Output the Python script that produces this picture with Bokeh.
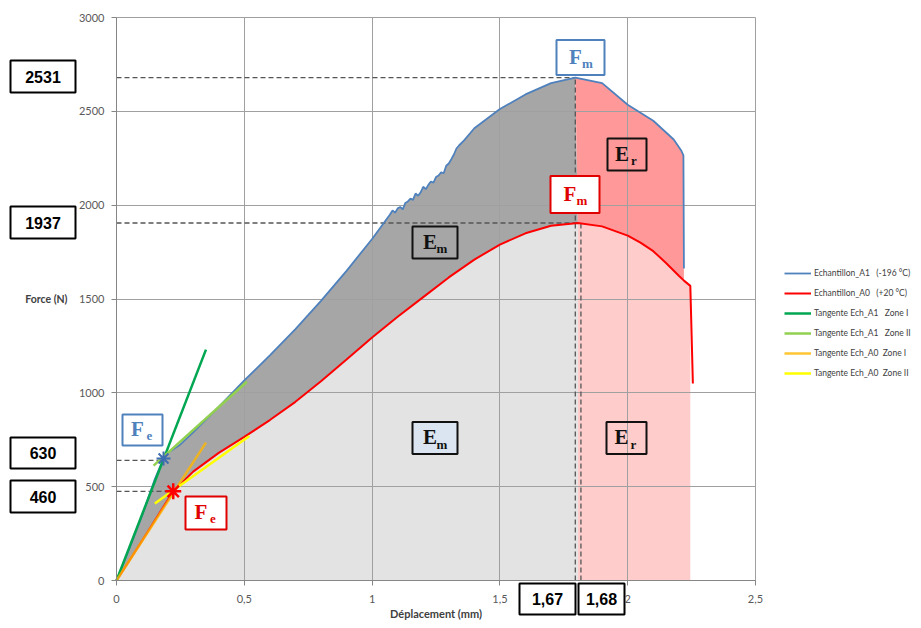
import numpy as np
from bokeh.plotting import figure
from bokeh.models import Range1d, Label, Legend, LegendItem, FixedTicker
from bokeh.core.properties import value
from bokeh.embed import file_html
from bokeh.resources import INLINE

# ---------------- data ----------------
disp_A1 = [0.00, 0.05, 0.10, 0.15, 0.184, 0.20, 0.25, 0.30, 0.40, 0.50, 0.60, 0.70, 0.80,
           0.90, 1.00, 1.07, 1.08, 1.09, 1.10, 1.11, 1.12, 1.13, 1.14, 1.15, 1.16, 1.17,
           1.18, 1.19, 1.20, 1.21, 1.22, 1.23, 1.24, 1.25, 1.26, 1.27, 1.28, 1.29, 1.30,
           1.31, 1.32, 1.33, 1.34, 1.36, 1.40, 1.50, 1.60, 1.70, 1.795, 1.90, 2.00,
           2.10, 2.18, 2.21, 2.218, 2.22]
force_A1 = [0, 170, 345, 540, 650, 680, 725, 790, 925, 1066, 1200, 1340, 1490,
            1650, 1820, 1950, 1972, 1960, 1983, 1990, 1978, 2012, 2020, 2035, 2028, 2062,
            2050, 2068, 2098, 2085, 2108, 2126, 2120, 2150, 2158, 2175, 2170, 2210, 2222,
            2245, 2270, 2302, 2318, 2345, 2410, 2512, 2590, 2650, 2680, 2650, 2535,
            2450, 2350, 2290, 2265, 1662]

disp_A0 = [0.00, 0.05, 0.10, 0.15, 0.222, 0.30, 0.40, 0.50, 0.60, 0.70, 0.80, 0.90, 1.00,
           1.10, 1.20, 1.30, 1.40, 1.50, 1.60, 1.70, 1.805, 1.90, 2.00, 2.05, 2.10, 2.15,
           2.20, 2.22, 2.245, 2.255]
force_A0 = [0, 105, 212, 320, 475, 580, 680, 765, 855, 952, 1062, 1178, 1295,
            1405, 1510, 1615, 1710, 1790, 1850, 1890, 1905, 1887, 1838, 1800, 1755, 1692,
            1624, 1598, 1570, 1050]

tan_A1_I_x, tan_A1_I_y = [0.0, 0.35], [0, 1230]
tan_A1_II_x, tan_A1_II_y = [0.145, 0.51], [612, 1059]
tan_A0_I_x, tan_A0_I_y = [0.0, 0.35], [0, 735]
tan_A0_II_x, tan_A0_II_y = [0.15, 0.52], [410, 770]

Fe_A1_x, Fe_A1_y = 0.184, 650
Fe_A0_x, Fe_A0_y = 0.222, 475
Fm_A1_x, Fm_A1_y = 1.795, 2680
Fm_A0_x, Fm_A0_y = 1.805, 1905

box_values_force = ["2531", "1937", "630", "460"]
box_values_disp = ["1,67", "1,68"]

x_ticks = [0, 0.5, 1, 1.5, 2, 2.5]
x_tick_labels = ["0", "0,5", "1", "1,5", "2", "2,5"]
y_ticks = [0, 500, 1000, 1500, 2000, 2500, 3000]

series_names = ["Echantillon_A1\u00a0\u00a0\u00a0(-196\u00a0°C)",
                "Echantillon_A0\u00a0\u00a0\u00a0(+20\u00a0°C)",
                "Tangente\u00a0Ech_A1\u00a0\u00a0\u00a0Zone\u00a0I",
                "Tangente\u00a0Ech_A1\u00a0\u00a0\u00a0Zone\u00a0II",
                "Tangente\u00a0Ech_A0\u00a0\u00a0Zone\u00a0I",
                "Tangente\u00a0Ech_A0\u00a0\u00a0Zone\u00a0II"]

# ---------------- styles ----------------
BLUE = "#4f81bd"
RED = "#ff0000"
GREEN = "#00a651"
LGREEN = "#92d050"
ORANGE = "#ffb700"
YELLOW = "#ffff00"
DARKGRAY = "#a6a6a6"
LIGHTGRAY = "#e3e3e3"
SALMON = "#ff9999"
PINK = "#ffcccc"
TICKFONT = "Lato"

W, H = 913, 620
# frame covers the whole canvas; axes are pinned at 0 inside it
PX0, PXS = 116, 255.6          # pixel of x=0, pixels per mm
PY0, PYS = 580, 563 / 3000     # pixel of y=0, pixels per N
x_lo, x_hi = -PX0 / PXS, (W - PX0) / PXS
y_hi, y_lo = PY0 / PYS, (PY0 - H) / PYS

p = figure(width=W, height=H, output_backend="svg", toolbar_location=None,
           x_range=Range1d(x_lo, x_hi), y_range=Range1d(y_lo, y_hi))
p.min_border = 0
p.min_border_left = p.min_border_right = p.min_border_top = p.min_border_bottom = 0
p.outline_line_color = None
p.background_fill_color = "white"

# ---------------- filled areas ----------------
i1 = disp_A1.index(Fm_A1_x)
i0 = disp_A0.index(Fm_A0_x)
j1 = len(disp_A1) - 2
k0 = disp_A0.index(2.22)
m0 = disp_A0.index(2.245)

def area(xs, ys, color):
    r = p.patch(xs, ys, fill_color=color, line_color=None)
    r.level = "image"

area(disp_A0[:i0 + 1] + [disp_A0[i0], 0], force_A0[:i0 + 1] + [0, 0], LIGHTGRAY)
area(disp_A1[:i1 + 1] + disp_A0[:i0 + 1][::-1], force_A1[:i1 + 1] + force_A0[:i0 + 1][::-1], DARKGRAY)
area(disp_A1[i1:j1 + 1] + disp_A0[i0:k0 + 1][::-1], force_A1[i1:j1 + 1] + force_A0[i0:k0 + 1][::-1], SALMON)
area(disp_A0[i0:m0 + 1] + [disp_A0[m0], disp_A0[i0]], force_A0[i0:m0 + 1] + [0, 0], PINK)

# ---------------- axes / grid ----------------
p.xaxis.ticker = FixedTicker(ticks=x_ticks)
p.yaxis.ticker = FixedTicker(ticks=y_ticks)
p.xaxis.major_label_overrides = {t: l for t, l in zip(x_ticks, x_tick_labels)}
p.xaxis.fixed_location = 0
p.yaxis.fixed_location = 0
p.xaxis.bounds = (0, 2.5)
p.yaxis.bounds = (0, 3000)
for ax in (p.xaxis, p.yaxis):
    ax.axis_line_color = "#868686"
    ax.major_tick_line_color = "#868686"
    ax.major_tick_out = 5
    ax.major_tick_in = 0
    ax.minor_tick_line_color = None
    ax.major_label_text_font = TICKFONT
    ax.major_label_text_font_size = "11px"
    ax.major_label_text_color = "#595959"
p.xaxis.major_label_standoff = 9
p.yaxis.major_label_standoff = 7

g_x, g_y = p.xgrid[0], p.ygrid[0]
g_x.grid_line_color = "#a0a0a0"
g_y.grid_line_color = "#a0a0a0"
g_x.bounds = (0, 2.5)
g_y.bounds = (0, 3000)
if "cross_bounds" in g_x.properties():
    g_x.cross_bounds = (0, 3000)
    g_y.cross_bounds = (0, 2.5)
else:
    g_x.visible = False
    g_y.visible = False
    p.segment(x_ticks, [0] * len(x_ticks), x_ticks, [3000] * len(x_ticks),
              line_color="#a0a0a0", level="underlay")
    p.segment([0] * len(y_ticks), y_ticks, [2.5] * len(y_ticks), y_ticks,
              line_color="#a0a0a0", level="underlay")

def ylab(px):   # helper: reference pixel row -> data y
    return (PY0 - px) / PYS

def xlab(px):
    return (px - PX0) / PXS

p.add_layout(Label(x=xlab(67), y=1500, text="Force (N)", text_align="right", text_baseline="middle",
                   text_font=TICKFONT, text_font_style="bold", text_font_size="10.5px",
                   text_color="#404040"))
p.add_layout(Label(x=1.25, y=ylab(613), text="Déplacement (mm)", text_align="center",
                   text_baseline="middle", text_font=TICKFONT, text_font_style="bold",
                   text_font_size="11px", text_color="#404040"))

# ---------------- dashed guide lines ----------------
DASH = dict(line_color="#555555", line_dash="5 3", line_width=1.3)
p.line([0, Fm_A1_x], [Fm_A1_y, Fm_A1_y], **DASH)
p.line([0, Fm_A0_x], [Fm_A0_y, Fm_A0_y], **DASH)
p.line([Fm_A1_x, Fm_A1_x], [0, Fm_A1_y], **DASH)
p.line([Fm_A0_x + 0.012, Fm_A0_x + 0.012], [0, Fm_A0_y], **DASH)
p.line([0, Fe_A1_x], [Fe_A1_y - 10, Fe_A1_y - 10], **DASH)
p.line([0, Fe_A0_x], [Fe_A0_y, Fe_A0_y], **DASH)

# ---------------- curves ----------------
r_a1 = p.line(disp_A1, force_A1, line_color=BLUE, line_width=1.8)
r_a0 = p.line(disp_A0, force_A0, line_color=RED, line_width=2)
r_t1 = p.line(tan_A1_I_x, tan_A1_I_y, line_color=GREEN, line_width=2.5)
r_t2 = p.line(tan_A1_II_x, tan_A1_II_y, line_color=LGREEN, line_width=2.5)
r_t3 = p.line(tan_A0_I_x, tan_A0_I_y, line_color=ORANGE, line_width=2.5, line_alpha=0.8)
r_t4 = p.line(tan_A0_II_x, tan_A0_II_y, line_color=YELLOW, line_width=2.5)

p.scatter([Fe_A1_x], [Fe_A1_y], marker="asterisk", size=14, line_color="#3d6db0", line_width=2)
p.scatter([Fe_A0_x], [Fe_A0_y], marker="asterisk", size=16, line_color=RED, line_width=2.5)

# ---------------- boxed symbols ----------------
def sym_box(x, y, w, h, main, sub, color, fill, text_color):
    p.rect([x], [y], width=w, height=h, width_units="screen", height_units="screen",
           fill_color=fill if fill else "white", fill_alpha=1.0 if fill else 0,
           line_color=color, line_width=2)
    p.text([x], [y], text=[main], text_font=value("Liberation Serif"), text_font_style="bold",
           text_font_size="21px", text_color=text_color, text_align="center",
           text_baseline="middle", x_offset=-5, y_offset=-1)
    p.text([x], [y], text=[sub], text_font=value("Liberation Serif"), text_font_style="bold",
           text_font_size="13px", text_color=text_color, text_align="center",
           text_baseline="middle", x_offset=7, y_offset=6)

sym_box(xlab(580), ylab(57), 48, 35, "F", "m", BLUE, "white", BLUE)
sym_box(xlab(574.5), ylab(194), 49, 37, "F", "m", "#e00000", "white", "#e00000")
sym_box(xlab(142), ylab(429.5), 40, 31, "F", "e", BLUE, "white", BLUE)
sym_box(xlab(205.5), ylab(512.5), 41, 33, "F", "e", "#e00000", "white", "#e00000")
sym_box(xlab(434.5), ylab(242), 45, 32, "E", "m", "#111111", None, "#111111")
sym_box(xlab(434.5), ylab(437.5), 45, 32, "E", "m", "#111111", "#dbe5f1", "#111111")
sym_box(xlab(626.5), ylab(154), 39, 32, "E", "r", "#111111", None, "#111111")
sym_box(xlab(626), ylab(437.5), 40, 32, "E", "r", "#111111", None, "#111111")

# ---------------- boxed values ----------------
def val_box(x, y, w, h, txt):
    p.rect([x], [y], width=w, height=h, width_units="screen", height_units="screen",
           fill_color="white", line_color="black", line_width=2)
    p.text([x], [y], text=[txt], text_font=value("Liberation Sans"), text_font_style="bold",
           text_font_size="16px", text_color="black", text_align="center",
           text_baseline="middle")

val_box(xlab(42.5), ylab(76), 65, 32, box_values_force[0])
val_box(xlab(42.5), ylab(222), 65, 32, box_values_force[1])
val_box(xlab(42.5), ylab(452.5), 65, 31, box_values_force[2])
val_box(xlab(42.5), ylab(496), 65, 32, box_values_force[3])
val_box(xlab(547), ylab(598.5), 56, 31, box_values_disp[0])
val_box(xlab(601), ylab(598.5), 46, 31, box_values_disp[1])

# ---------------- legend ----------------
legend = Legend(items=[LegendItem(label=n, renderers=[rr]) for n, rr in
                       zip(series_names, [r_a1, r_a0, r_t1, r_t2, r_t3, r_t4])],
                location=(784, 241), padding=0, margin=0, border_line_color=None,
                background_fill_alpha=0, glyph_width=27, glyph_height=12, label_height=12,
                spacing=8, label_standoff=3, label_text_font=TICKFONT,
                label_text_font_size="8.5px", label_text_color="#404040")
p.add_layout(legend, "center")

open("out.html", "w").write(file_html(p, INLINE))
